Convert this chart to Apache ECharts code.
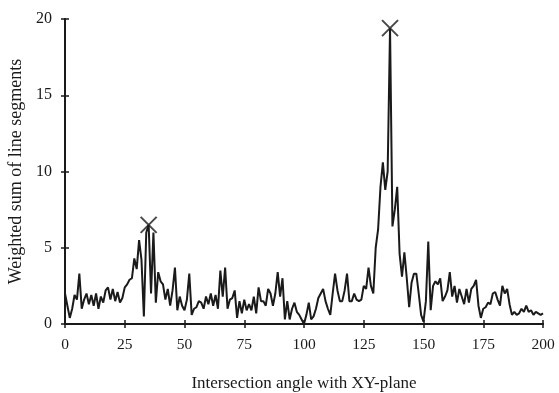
<!DOCTYPE html>
<html><head><meta charset="utf-8">
<script src="https://cdn.jsdelivr.net/npm/echarts@6/dist/echarts.min.js"></script>
<style>html,body{margin:0;padding:0;background:#fff}#c{width:559px;height:393px}</style>
</head><body><div id="c"></div>
<script>
var angles = [];
for (var i = 0; i <= 200; i++) angles.push(i);
var weightedSum = [
2.0,1.2,0.4,1.0,1.9,1.6,3.3,1.0,1.6,2.0,
1.3,1.9,1.2,2.0,1.0,1.8,1.4,2.2,2.4,1.6,
2.3,1.5,2.1,1.4,1.7,2.4,2.6,2.9,3.0,4.3,
3.6,5.5,4.2,0.5,6.0,6.5,2.0,6.0,1.4,3.4,
2.8,2.6,1.6,2.3,1.2,2.2,3.7,0.9,1.8,1.2,
0.9,1.6,3.3,0.6,1.0,1.1,1.5,1.4,1.0,1.8,
1.3,2.0,1.2,1.9,1.0,3.5,1.8,3.7,1.0,1.6,
1.7,2.2,0.4,1.5,0.7,1.6,0.9,1.3,0.9,1.8,
0.7,2.4,1.5,1.5,1.2,2.3,2.0,1.2,2.0,3.4,
1.8,3.0,0.3,1.5,0.3,1.0,1.4,0.8,0.6,0.3,
0.0,0.6,1.4,0.3,0.5,1.0,1.7,2.0,2.3,1.5,
1.0,0.6,2.0,3.3,2.2,1.5,1.5,2.2,3.3,1.5,
1.5,2.0,1.6,1.5,1.6,2.5,2.3,3.7,2.5,2.0,
5.0,6.2,9.0,10.6,8.8,10.0,19.4,6.4,7.5,9.0,
4.6,3.1,4.7,3.0,1.1,2.7,3.3,3.3,2.0,0.6,
0.15,1.5,5.4,0.9,2.5,2.8,2.6,3.0,1.5,1.8,
2.2,3.4,1.8,2.5,1.4,2.3,1.8,1.3,2.3,1.4,
2.3,2.5,2.9,1.2,0.4,1.0,1.1,1.4,1.3,2.0,
2.1,1.6,1.2,2.5,2.0,2.3,1.3,0.6,0.8,0.6,
0.7,1.0,0.8,1.2,0.8,0.9,0.6,0.8,0.7,0.6,0.7
];
var peakAngles = [35, 136];
var peakValues = [6.5, 19.4];
var xTicks = [0,25,50,75,100,125,150,175,200];
var yTicks = [0,5,10,15,20];

var lineData = angles.map(function(a,i){return [a, weightedSum[i]];});
var peakData = peakAngles.map(function(a,i){return [a, peakValues[i]];});
var font = '"Liberation Serif","Times New Roman",serif';
var ink = '#1a1a1a';

function xAx(inside, show){
  return {type:'value', min:0, max:200, interval:25, position:'bottom',
    axisLine:{show:true, onZero:false, lineStyle:{color:ink, width:2}},
    axisTick:{show:true, inside:inside, length:4, lineStyle:{color:ink, width:1.5}},
    axisLabel:{show:show, color:ink, fontFamily:font, fontSize:15.5, margin:13},
    splitLine:{show:false},
    name: show ? 'Intersection angle with XY-plane' : '',
    nameLocation:'middle', nameGap:51,
    nameTextStyle:{color:ink, fontFamily:font, fontSize:17}};
}
function yAx(inside, show){
  return {type:'value', min:0, max:20, interval:5, position:'left',
    axisLine:{show:true, onZero:false, lineStyle:{color:ink, width:2}},
    axisTick:{show:true, inside:inside, length:4, lineStyle:{color:ink, width:1.5}},
    axisLabel:{show:show, color:ink, fontFamily:font, fontSize:16, margin:13},
    splitLine:{show:false},
    name: show ? 'Weighted sum of line segments' : '',
    nameLocation:'middle', nameGap:38,
    nameTextStyle:{color:ink, fontFamily:font, fontSize:18}};
}

var chart = echarts.init(document.getElementById('c'), null, {renderer:'canvas'});
chart.setOption({
  backgroundColor:'#fff',
  animation:false,
  grid:{left:65, right:16, top:19, bottom:69, containLabel:false, outerBoundsMode:'none'},
  xAxis:[xAx(false,true), xAx(true,false)],
  yAxis:[yAx(false,true), yAx(true,false)],
  series:[
    {type:'line', data:lineData, symbol:'none', xAxisIndex:0, yAxisIndex:0,
     lineStyle:{color:ink, width:2}},
    {type:'scatter', data:peakData, xAxisIndex:0, yAxisIndex:0,
     symbol:'path://M0,0L10,10M10,0L0,10', symbolSize:16,
     itemStyle:{color:'none', borderColor:ink, borderWidth:2}}
  ]
});
</script></body></html>
